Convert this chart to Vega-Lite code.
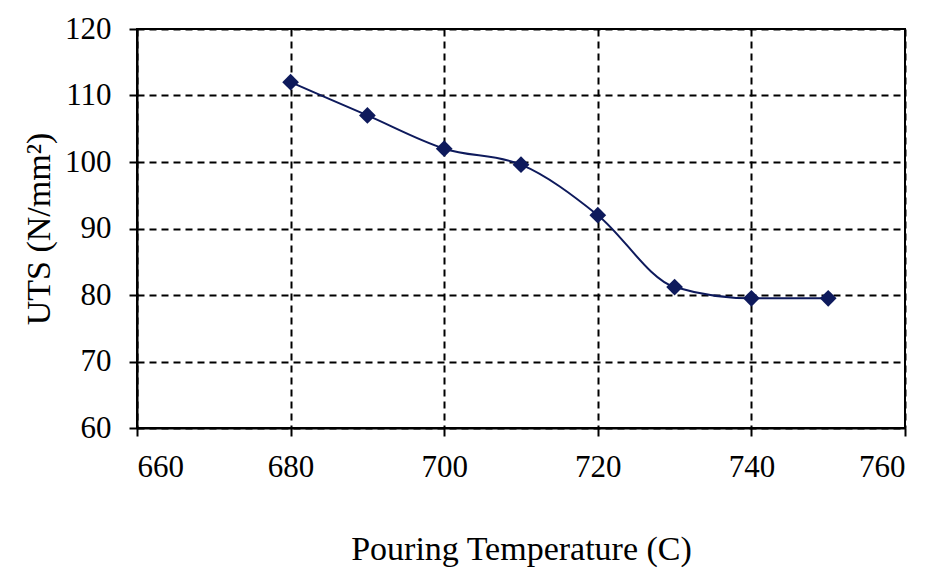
{
  "$schema": "https://vega.github.io/schema/vega-lite/v6.json",
  "width": 768,
  "height": 399,
  "autosize": "none",
  "padding": {"left": 137, "top": 29, "right": 20, "bottom": 144},
  "background": "white",
  "config": {
    "view": {"stroke": "black", "strokeWidth": 2},
    "font": "Liberation Serif",
    "axis": {
      "labelFont": "Liberation Serif",
      "titleFont": "Liberation Serif",
      "labelFontSize": 31,
      "titleFontSize": 34,
      "titleFontWeight": "normal",
      "labelColor": "black",
      "titleColor": "black",
      "domainColor": "black",
      "domainWidth": 2,
      "tickColor": "black",
      "tickWidth": 2,
      "tickSize": 8,
      "gridColor": "black",
      "gridWidth": 2,
      "gridDash": [7, 5],
      "gridOpacity": 1
    }
  },
  "data": {
    "values": [
      {"temp": 680, "uts": 112.0},
      {"temp": 690, "uts": 107.0},
      {"temp": 700, "uts": 102.0},
      {"temp": 710, "uts": 99.6},
      {"temp": 720, "uts": 92.0},
      {"temp": 730, "uts": 81.2},
      {"temp": 740, "uts": 79.5},
      {"temp": 750, "uts": 79.5}
    ]
  },
  "encoding": {
    "x": {
      "field": "temp",
      "type": "quantitative",
      "scale": {"domain": [660, 760], "nice": false, "zero": false},
      "axis": {"values": [660, 680, 700, 720, 740, 760], "title": "Pouring Temperature (C)", "labelPadding": 16, "titlePadding": 50}
    },
    "y": {
      "field": "uts",
      "type": "quantitative",
      "scale": {"domain": [60, 120], "nice": false, "zero": false},
      "axis": {"values": [60, 70, 80, 90, 100, 110, 120], "title": "UTS (N/mm²)", "labelPadding": 18, "titlePadding": 8}
    }
  },
  "layer": [
    {"mark": {"type": "line", "interpolate": "monotone", "color": "#0e1a5c", "strokeWidth": 2}},
    {"mark": {"type": "point", "shape": "diamond", "filled": true, "color": "#0e1a5c", "size": 280, "opacity": 1}}
  ]
}
